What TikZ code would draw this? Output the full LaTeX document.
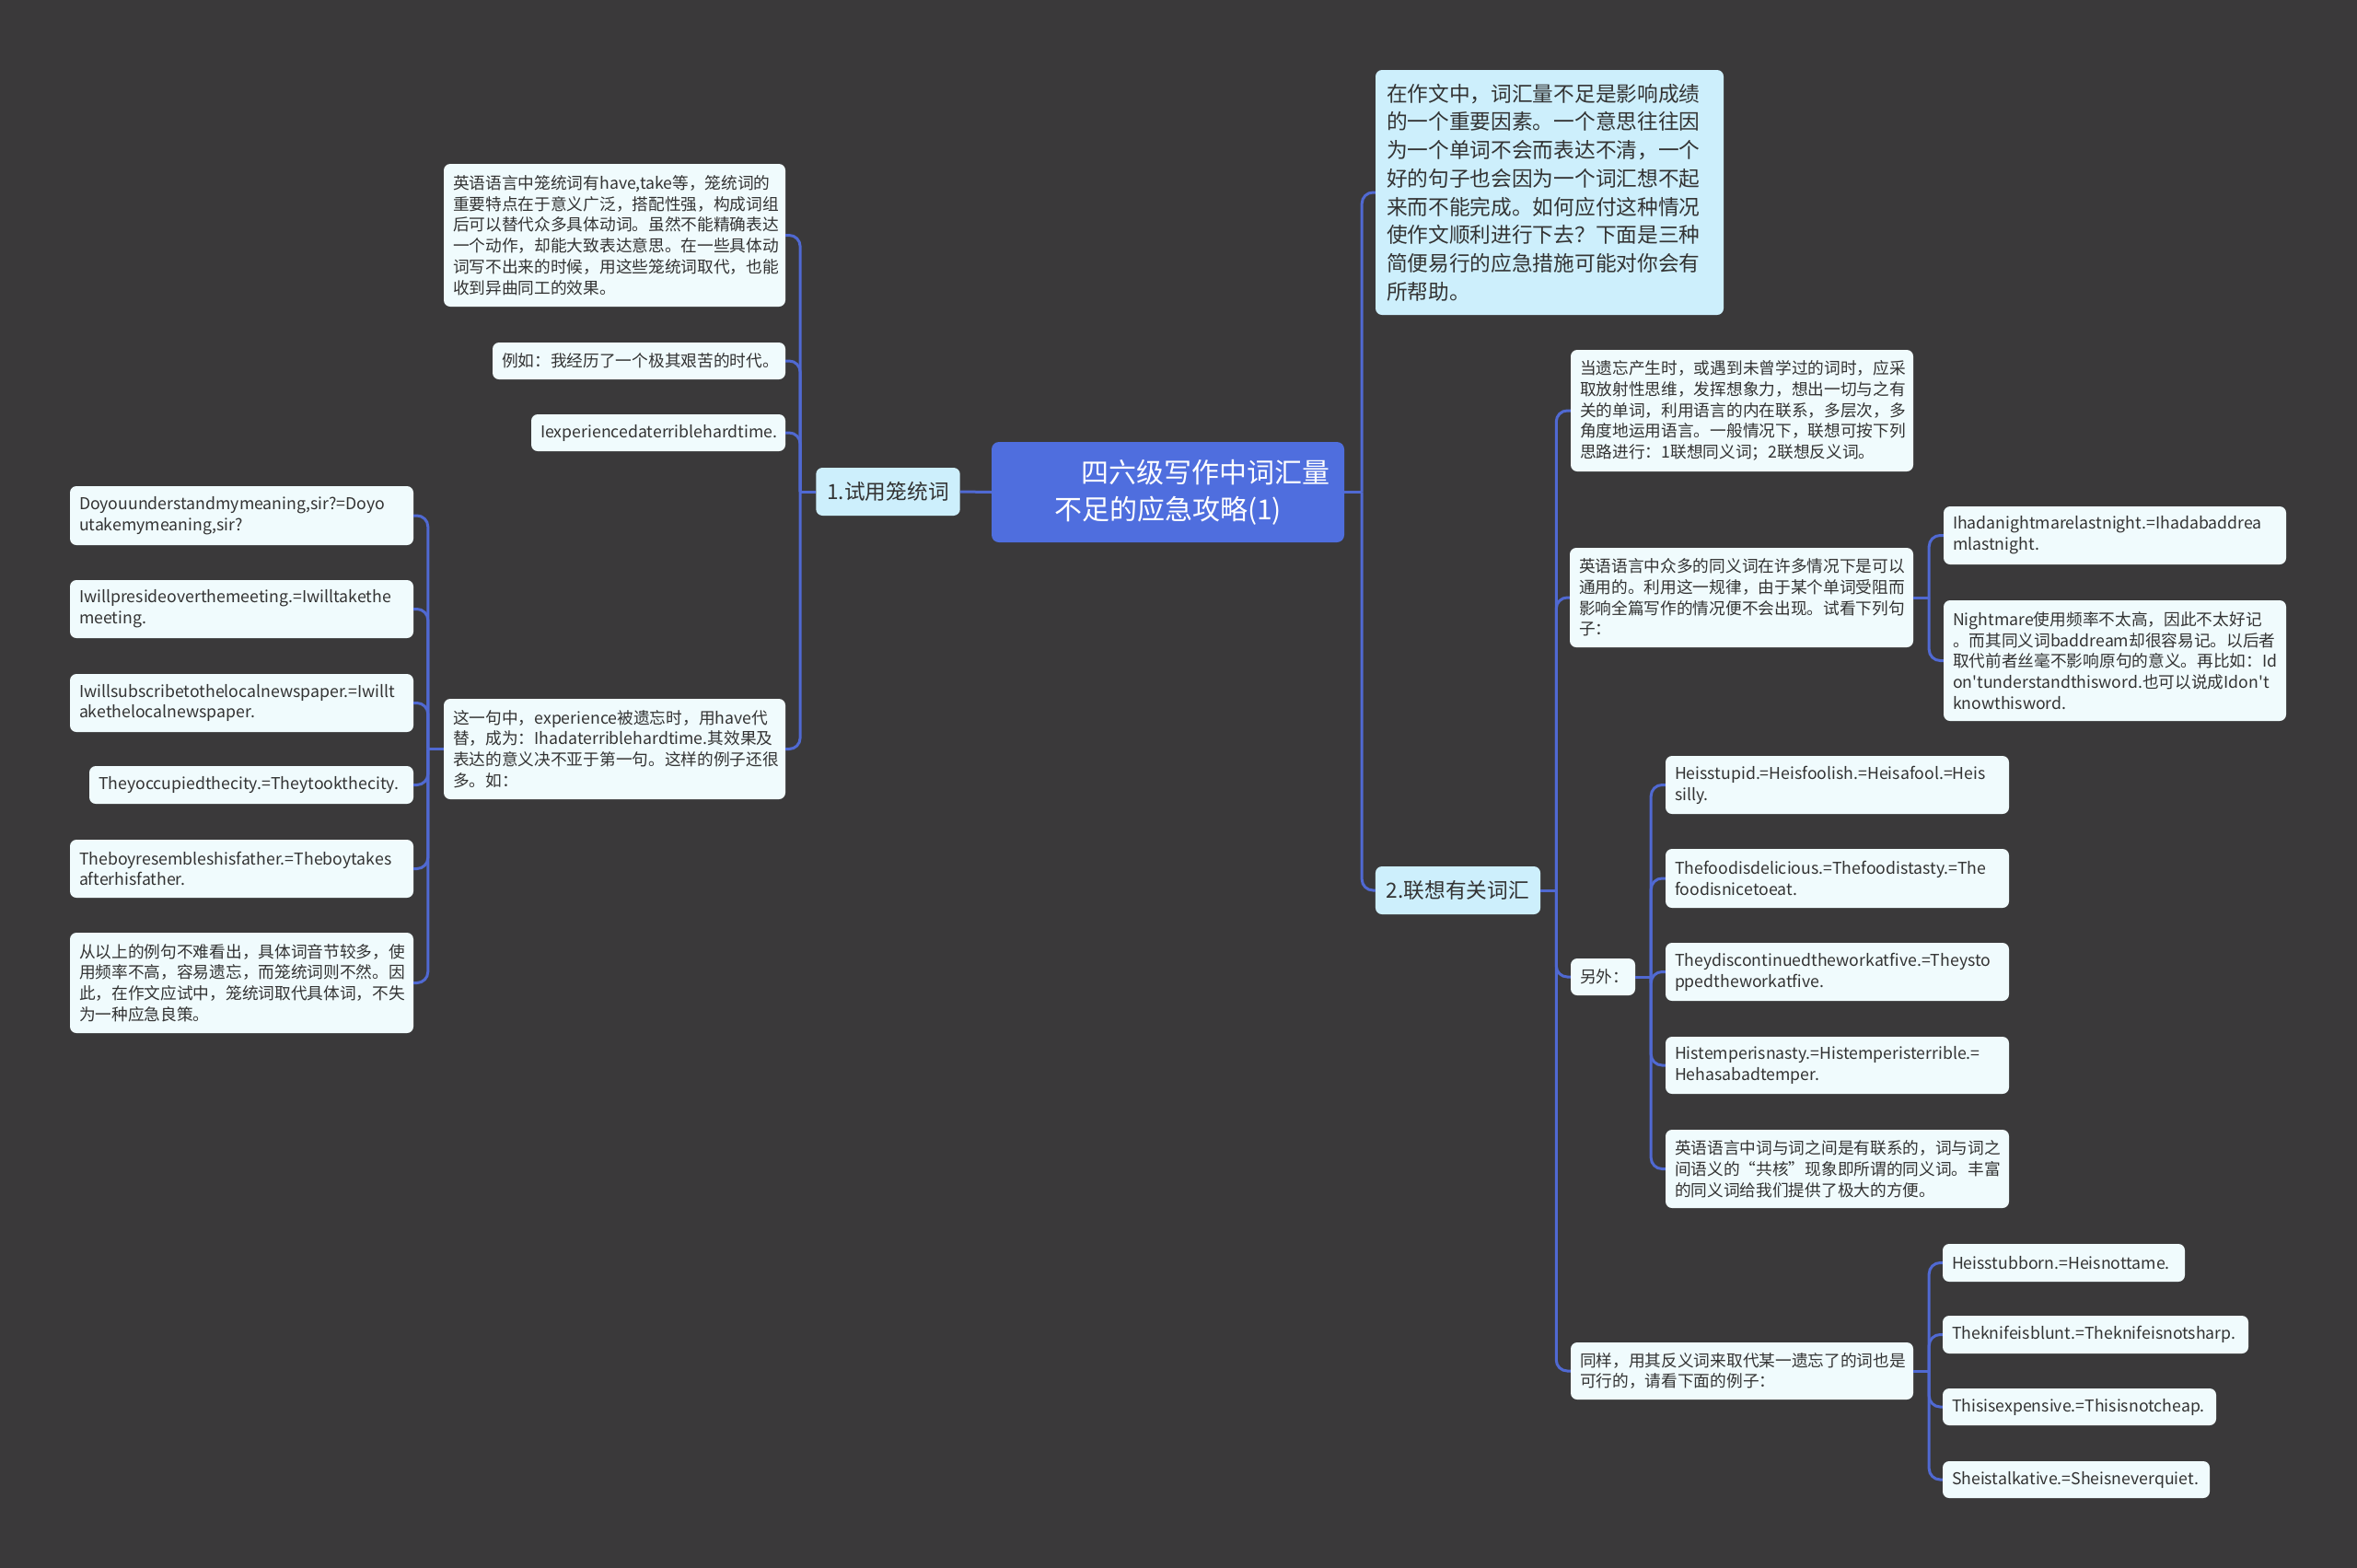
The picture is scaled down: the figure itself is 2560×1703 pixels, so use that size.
\documentclass[tikz,border=0pt]{standalone}
\usepackage{fontspec}
\setmainfont{Noto Sans CJK SC}[Ligatures=TeXOff]
\usetikzlibrary{positioning,calc}
\hyphenpenalty=10000
\exhyphenpenalty=10000
\definecolor{mapbg}{HTML}{3A393A}
\definecolor{mapline}{HTML}{5069D2}
\definecolor{rootblue}{HTML}{4F6EDE}
\definecolor{topicbg}{HTML}{CDEFFC}
\definecolor{leafbg}{HTML}{F0FBFD}
\definecolor{inktext}{HTML}{333333}

\begin{document}
\begin{tikzpicture}[x=1pt,y=-1pt,
  root/.style={fill=rootblue,rounded corners=8pt,text=white,align=center,
               font=\fontsize{30}{40}\selectfont,inner sep=0pt},
  topic/.style={fill=topicbg,rounded corners=7pt,text=inktext,align=left,
                font=\fontsize{22.7}{30.7}\selectfont,inner xsep=12pt,inner ysep=0pt},
  leaf/.style={fill=leafbg,rounded corners=7pt,text=inktext,align=left,
               font=\fontsize{17.7}{22.8}\selectfont,inner xsep=10pt,inner ysep=0pt},
  link/.style={draw=mapline,line width=3pt,rounded corners=12pt},
]
% Canvas
\fill[mapbg] (0,0) rectangle (2560,1703);

% Centre
\node[root,minimum width=383pt,minimum height=109pt] (root) at (1268.5,534.5)
  {\hspace*{81pt}四六级写作中词汇量\\不足的应急攻略(1)};

% Left branch
\node[topic,minimum width=155pt,minimum height=52pt] (t1) at (964.5,534) {1.试用笼统词};
\node[leaf,text width=351pt,minimum height=155pt] (a1) at (667.5,255.5)
  {英语语言中笼统词有have,take等，笼统词的\\重要特点在于意义广泛，搭配性强，构成词组\\后可以替代众多具体动词。虽然不能精确表达\\一个动作，却能大致表达意思。在一些具体动\\词写不出来的时候，用这些笼统词取代，也能\\收到异曲同工的效果。};
\node[leaf,text width=298pt,minimum height=40pt] (a2) at (694,392) {例如：我经历了一个极其艰苦的时代。};
\node[leaf,text width=256pt,minimum height=40pt] (a3) at (715,470) {Iexperiencedaterriblehardtime.};
\node[leaf,text width=351pt,minimum height=109pt] (a4) at (667.5,813.5)
  {这一句中，experience被遗忘时，用have代\\替，成为：Ihadaterriblehardtime.其效果及\\表达的意义决不亚于第一句。这样的例子还很\\多。如：};

% Examples under a4
\node[leaf,text width=353pt,minimum height=64pt] (b1) at (262.5,560)
  {Doyouunderstandmymeaning,sir?=Doyo\\utakemymeaning,sir?};
\node[leaf,text width=353pt,minimum height=63pt] (b2) at (262.5,661.5)
  {Iwillpresideoverthemeeting.=Iwilltakethe\\meeting.};
\node[leaf,text width=353pt,minimum height=63pt] (b3) at (262.5,763.5)
  {Iwillsubscribetothelocalnewspaper.=Iwillt\\akethelocalnewspaper.};
\node[leaf,text width=332pt,minimum height=41pt] (b4) at (273,852.5)
  {Theyoccupiedthecity.=Theytookthecity.};
\node[leaf,text width=353pt,minimum height=63pt] (b5) at (262.5,943.5)
  {Theboyresembleshisfather.=Theboytakes\\afterhisfather.};
\node[leaf,text width=353pt,minimum height=109pt] (b6) at (262.5,1067.5)
  {从以上的例句不难看出，具体词音节较多，使\\用频率不高，容易遗忘，而笼统词则不然。因\\此，在作文应试中，笼统词取代具体词，不失\\为一种应急良策。};

% Right branch
\node[topic,text width=354pt,minimum height=266pt] (intro) at (1683,209)
  {在作文中，词汇量不足是影响成绩\\的一个重要因素。一个意思往往因\\为一个单词不会而表达不清，一个\\好的句子也会因为一个词汇想不起\\来而不能完成。如何应付这种情况\\使作文顺利进行下去？下面是三种\\简便易行的应急措施可能对你会有\\所帮助。};
\node[topic,minimum width=179pt,minimum height=52pt] (t2) at (1583.5,967) {2.联想有关词汇};

\node[leaf,text width=352pt,minimum height=132pt] (e1) at (1892,446)
  {当遗忘产生时，或遇到未曾学过的词时，应采\\取放射性思维，发挥想象力，想出一切与之有\\关的单词，利用语言的内在联系，多层次，多\\角度地运用语言。一般情况下，联想可按下列\\思路进行：1联想同义词；2联想反义词。};
\node[leaf,text width=353pt,minimum height=108pt] (e2) at (1891.5,649)
  {英语语言中众多的同义词在许多情况下是可以\\通用的。利用这一规律，由于某个单词受阻而\\影响全篇写作的情况便不会出现。试看下列句\\子：};
\node[leaf,text width=50pt,minimum height=40pt] (e3) at (1741,1061) {另外：};
\node[leaf,text width=352pt,minimum height=62pt] (e4) at (1892,1489)
  {同样，用其反义词来取代某一遗忘了的词也是\\可行的，请看下面的例子：};

% Synonym examples
\node[leaf,text width=352pt,minimum height=63pt] (f1) at (2297,581.5)
  {Ihadanightmarelastnight.=Ihadabaddrea\\mlastnight.};
\node[leaf,text width=352pt,minimum height=131pt] (f2) at (2297,717.5)
  {Nightmare使用频率不太高，因此不太好记\\。而其同义词baddream却很容易记。以后者\\取代前者丝毫不影响原句的意义。再比如：Id\\on'tunderstandthisword.也可以说成Idon't\\knowthisword.};

\node[leaf,text width=353pt,minimum height=63pt] (c1) at (1995.5,852.5)
  {Heisstupid.=Heisfoolish.=Heisafool.=Heis\\silly.};
\node[leaf,text width=353pt,minimum height=64pt] (c2) at (1995.5,954)
  {Thefoodisdelicious.=Thefoodistasty.=The\\foodisnicetoeat.};
\node[leaf,text width=353pt,minimum height=63pt] (c3) at (1995.5,1055.5)
  {Theydiscontinuedtheworkatfive.=Theysto\\ppedtheworkatfive.};
\node[leaf,text width=353pt,minimum height=62pt] (c4) at (1995.5,1157)
  {Histemperisnasty.=Histemperisterrible.=\\Hehasabadtemper.};
\node[leaf,text width=353pt,minimum height=85pt] (c5) at (1995.5,1269.5)
  {英语语言中词与词之间是有联系的，词与词之\\间语义的“共核”现象即所谓的同义词。丰富\\的同义词给我们提供了极大的方便。};

% Antonym examples
\node[leaf,text width=243pt,minimum height=41pt] (d1) at (2241.5,1371.5) {Heisstubborn.=Heisnottame.};
\node[leaf,text width=312pt,minimum height=41pt] (d2) at (2276,1449.5) {Theknifeisblunt.=Theknifeisnotsharp.};
\node[leaf,text width=277pt,minimum height=40pt] (d3) at (2258.5,1528) {Thisisexpensive.=Thisisnotcheap.};
\node[leaf,text width=270pt,minimum height=40pt] (d4) at (2255,1607) {Sheistalkative.=Sheisneverquiet.};

% Connectors
\draw[link] (root.west) -- (t1.east);
\coordinate (j1) at ($(t1.west)+(-17,0)$);
\draw[link] (t1.west) -- (j1);
\foreach \c in {a1,a2,a3,a4} \draw[link] (j1) |- (\c.east);

\coordinate (j7) at ($(a4.west)+(-17,0)$);
\draw[link] (a4.west) -- (j7);
\foreach \c in {b1,b2,b3,b4,b5,b6} \draw[link] (j7) |- (\c.east);

\coordinate (j2) at ($(root.east)+(19,0)$);
\draw[link] (root.east) -- (j2);
\foreach \c in {intro,t2} \draw[link] (j2) |- (\c.west);

\coordinate (j3) at ($(t2.east)+(17,0)$);
\draw[link] (t2.east) -- (j3);
\foreach \c in {e1,e2,e3,e4} \draw[link] (j3) |- (\c.west);

\coordinate (j4) at ($(e2.east)+(17,0)$);
\draw[link] (e2.east) -- (j4);
\foreach \c in {f1,f2} \draw[link] (j4) |- (\c.west);

\coordinate (j5) at ($(e3.east)+(17,0)$);
\draw[link] (e3.east) -- (j5);
\foreach \c in {c1,c2,c3,c4,c5} \draw[link] (j5) |- (\c.west);

\coordinate (j6) at ($(e4.east)+(17,0)$);
\draw[link] (e4.east) -- (j6);
\foreach \c in {d1,d2,d3,d4} \draw[link] (j6) |- (\c.west);
\end{tikzpicture}
\end{document}
